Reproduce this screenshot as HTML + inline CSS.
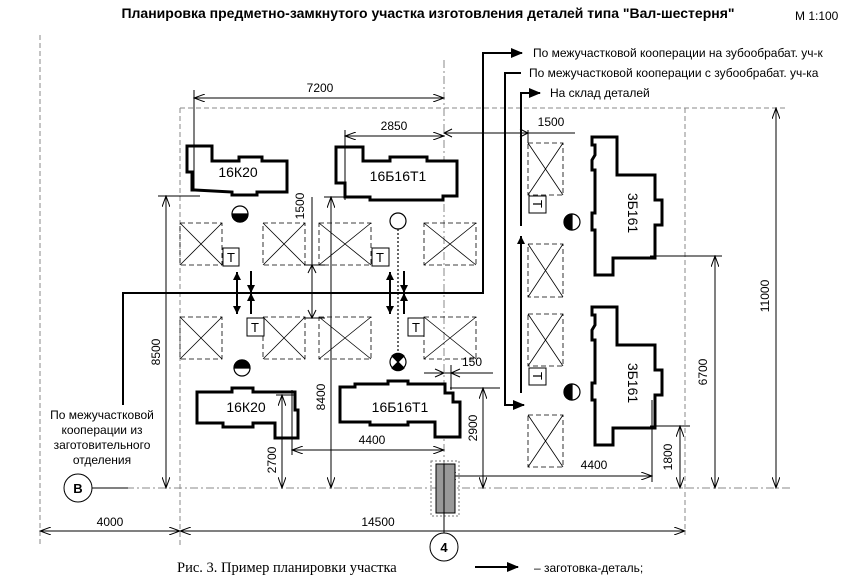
<!DOCTYPE html>
<html><head><meta charset="utf-8"><style>body{margin:0;background:#fff}svg{display:block}text{font-family:"Liberation Sans",sans-serif}</style></head><body>
<svg width="857" height="583" viewBox="0 0 857 583" xmlns="http://www.w3.org/2000/svg">
<defs>
<marker id="d" markerWidth="12" markerHeight="8" refX="11" refY="4" orient="auto-start-reverse" markerUnits="userSpaceOnUse"><path d="M0,0 L11,4 L0,8" fill="none" stroke="#000" stroke-width="1"/></marker>
<marker id="a" markerWidth="12" markerHeight="10" refX="11" refY="5" orient="auto-start-reverse" markerUnits="userSpaceOnUse"><path d="M0,0 L12,5 L0,10Z" fill="#000"/></marker>
<marker id="s" markerWidth="8" markerHeight="8" refX="8" refY="4" orient="auto-start-reverse" markerUnits="userSpaceOnUse"><path d="M0,0 L8,4 L0,8Z" fill="#000"/></marker>
</defs>
<text x="428" y="18" text-anchor="middle" font-weight="bold" font-size="14">Планировка предметно-замкнутого участка изготовления деталей типа "Вал-шестерня"</text>
<text x="795" y="20" font-size="12">М 1:100</text>

<g stroke="#888" stroke-width="1" fill="none" stroke-dasharray="5,3">
<line x1="40" y1="35" x2="40" y2="545"/>
<line x1="180" y1="108" x2="787" y2="108"/>
<line x1="180" y1="108" x2="180" y2="545"/>
<line x1="685" y1="108" x2="685" y2="535"/>
</g>
<g stroke="#888" stroke-width="1" fill="none" stroke-dasharray="8,3,2,3">
<line x1="444" y1="60" x2="444" y2="520"/>
<line x1="110" y1="488" x2="790" y2="488"/>
</g>

<g stroke="#000" stroke-width="3" fill="#fff">
<polygon points="187,146 212,146 212,161 239,161 239,157 262,157 262,161 287,161 287,192 257,192 257,195 232,195 232,192 195,190 192,190 192,172 187,172"/>
<polygon points="336,147 363,147 363,161 390,161 390,157 427,157 427,161 457,161 457,196 443,196 443,200 370,200 370,197 345,197 345,183 336,183"/>
<polygon points="197,392 232,392 232,388 253,388 253,392 295,392 295,410 298,410 298,438 275,438 275,423 253,423 253,427 223,427 223,423 197,423"/>
<polygon points="340,387 355,387 355,384 388,384 388,381 408,381 408,384 445,384 445,393 453,393 453,402 460,402 460,437 435,437 435,422 408,422 408,425 370,425 370,422 340,422"/>
<polygon points="592,137 617,137 617,175 655,175 655,200 662,200 662,225 655,225 655,258 613,258 613,275 595,275 595,230 592,230 592,213 595,213 595,170 592,170 592,160 595,155 595,145 592,145"/>
<polygon points="592,307 617,307 617,345 655,345 655,370 662,370 662,395 655,395 655,428 613,428 613,445 595,445 595,400 592,400 592,383 595,383 595,340 592,340 592,330 595,325 595,315 592,315"/>
</g>
<g font-size="14" text-anchor="middle">
<text x="238" y="177">16К20</text>
<text x="398" y="181">16Б16Т1</text>
<text x="246" y="412">16К20</text>
<text x="400" y="412">16Б16Т1</text>
<text transform="translate(628,213) rotate(90)">3Б161</text>
<text transform="translate(628,383) rotate(90)">3Б161</text>
</g>

<g stroke="#000" stroke-width="0.8" fill="none">
<g stroke-dasharray="5,3">
<rect x="180" y="223" width="42" height="42"/><rect x="263" y="223" width="42" height="42"/><rect x="319" y="223" width="52" height="42"/><rect x="424" y="223" width="52" height="42"/>
<rect x="180" y="317" width="42" height="42"/><rect x="263" y="317" width="42" height="42"/><rect x="319" y="317" width="52" height="42"/><rect x="424" y="317" width="52" height="42"/>
<rect x="528" y="143" width="35" height="52"/><rect x="528" y="244" width="35" height="53"/><rect x="528" y="314" width="35" height="52"/><rect x="528" y="415" width="35" height="52"/>
</g>
<path d="M180,223L222,265M222,223L180,265 M263,223L305,265M305,223L263,265 M319,223L371,265M371,223L319,265 M424,223L476,265M476,223L424,265
M180,317L222,359M222,317L180,359 M263,317L305,359M305,317L263,359 M319,317L371,359M371,317L319,359 M424,317L476,359M476,317L424,359
M528,143L563,195M563,143L528,195 M528,244L563,297M563,244L528,297 M528,314L563,366M563,314L528,366 M528,415L563,467M563,415L528,467"/>
</g>
<g stroke="#000" stroke-width="1" fill="#fff">
<rect x="223" y="248" width="16" height="18"/><rect x="247" y="318" width="17" height="18"/><rect x="372" y="248" width="17" height="18"/><rect x="408" y="318" width="16" height="18"/>
<rect x="529" y="196" width="17" height="17"/><rect x="529" y="368" width="17" height="17"/>
</g>
<g font-size="13" text-anchor="middle">
<text x="231" y="262">Т</text><text x="255" y="332">Т</text><text x="380" y="262">Т</text><text x="416" y="332">Т</text>
<text transform="translate(533,204) rotate(90)">Т</text><text transform="translate(533,376) rotate(90)">Т</text>
</g>

<g stroke="#000" stroke-width="1.2">
<circle cx="240" cy="214" r="8" fill="#fff"/><path d="M232,214 A8,8 0 0 0 248,214Z" fill="#000"/>
<circle cx="242" cy="368" r="8" fill="#fff"/><path d="M234,368 A8,8 0 0 1 250,368Z" fill="#000"/>
<circle cx="398" cy="221" r="8" fill="#fff"/>
<circle cx="398" cy="362" r="8" fill="#fff"/><path d="M392,356 L398,362 L404,356 A8,8 0 0 0 392,356Z M392,368 L398,362 L404,368 A8,8 0 0 1 392,368Z" fill="#000"/>
<circle cx="572" cy="222" r="8" fill="#fff"/><path d="M572,214 A8,8 0 0 0 572,230Z" fill="#000"/>
<circle cx="572" cy="392" r="8" fill="#fff"/><path d="M572,384 A8,8 0 0 0 572,400Z" fill="#000"/>
</g>
<line x1="398" y1="229" x2="398" y2="354" stroke="#000" stroke-width="1.2" stroke-dasharray="2,2"/>

<g stroke="#000" stroke-width="2" fill="none">
<polyline points="123,405 123,293 483,293 483,53 522,53" marker-end="url(#a)"/>
<polyline points="521,73 505,73 505,405 524,405" marker-end="url(#a)"/>
<polyline points="521,226 521,93 540,93" marker-end="url(#a)"/>
<line x1="521" y1="393" x2="521" y2="236" marker-end="url(#s)"/>
<line x1="237" y1="272" x2="237" y2="314" marker-start="url(#s)" marker-end="url(#s)"/>
<line x1="251" y1="271" x2="251" y2="293" marker-end="url(#s)"/>
<line x1="251" y1="314" x2="251" y2="293" marker-end="url(#s)"/>
<line x1="390" y1="272" x2="390" y2="314" marker-start="url(#s)" marker-end="url(#s)"/>
<line x1="404" y1="271" x2="404" y2="293" marker-end="url(#s)"/>
<line x1="404" y1="314" x2="404" y2="293" marker-end="url(#s)"/>
</g>
<g font-size="12">
<text x="533" y="57">По межучастковой кооперации на зубообрабат. уч-к</text>
<text x="529" y="77">По межучастковой кооперации с зубообрабат. уч-ка</text>
<text x="550" y="97">На склад деталей</text>
</g>
<g font-size="12" text-anchor="middle">
<text x="102" y="419">По межучастковой</text>
<text x="102" y="434">кооперации из</text>
<text x="102" y="449">заготовительного</text>
<text x="102" y="464">отделения</text>
</g>

<g stroke="#000" stroke-width="1" fill="none">
<line x1="194" y1="90" x2="194" y2="190"/>
<line x1="194" y1="98" x2="444" y2="98" marker-start="url(#d)" marker-end="url(#d)"/>
<line x1="345" y1="130" x2="345" y2="200"/>
<line x1="345" y1="136" x2="444" y2="136" marker-start="url(#d)" marker-end="url(#d)"/>
<line x1="444" y1="133" x2="575" y2="133"/>
<line x1="528" y1="130" x2="528" y2="143"/>
<path d="M452,129 L444,133 L452,137 M520,129 L528,133 L520,137"/>
<line x1="158" y1="196" x2="200" y2="196"/>
<line x1="166" y1="196" x2="166" y2="488" marker-start="url(#d)" marker-end="url(#d)"/>
<line x1="312" y1="197" x2="312" y2="318"/>
<line x1="304" y1="265" x2="325" y2="265"/><line x1="304" y1="318" x2="325" y2="318"/>
<path d="M308,273 L312,265 L316,273 M308,310 L312,318 L316,310"/>
<line x1="324" y1="197" x2="350" y2="197"/>
<line x1="331" y1="197" x2="331" y2="488" marker-start="url(#d)" marker-end="url(#d)"/>
<line x1="276" y1="395" x2="296" y2="395"/>
<line x1="282" y1="395" x2="282" y2="488" marker-start="url(#d)" marker-end="url(#d)"/>
<line x1="292" y1="390" x2="292" y2="455"/>
<line x1="292" y1="450" x2="444" y2="450" marker-start="url(#d)" marker-end="url(#d)"/>
<line x1="424" y1="373" x2="493" y2="373"/>
<line x1="451" y1="365" x2="451" y2="390"/>
<path d="M435,369 L444,373 L435,377 M460,369 L451,373 L460,377"/>
<line x1="450" y1="388" x2="500" y2="388"/>
<line x1="483" y1="388" x2="483" y2="488" marker-start="url(#d)" marker-end="url(#d)"/>
<line x1="652" y1="400" x2="652" y2="482"/>
<line x1="445" y1="476" x2="652" y2="476" marker-start="url(#d)" marker-end="url(#d)"/>
<line x1="650" y1="426" x2="690" y2="426"/>
<line x1="680" y1="426" x2="680" y2="488" marker-start="url(#d)" marker-end="url(#d)"/>
<line x1="650" y1="256" x2="722" y2="256"/>
<line x1="715" y1="256" x2="715" y2="488" marker-start="url(#d)" marker-end="url(#d)"/>
<line x1="776" y1="108" x2="776" y2="488" marker-start="url(#d)" marker-end="url(#d)"/>
<line x1="40" y1="531" x2="180" y2="531" marker-start="url(#d)" marker-end="url(#d)"/>
<line x1="180" y1="531" x2="685" y2="531" marker-start="url(#d)" marker-end="url(#d)"/>
</g>
<g font-size="12" text-anchor="middle">
<text x="320" y="92">7200</text>
<text x="394" y="130">2850</text>
<text x="551" y="126">1500</text>
<text transform="translate(304,206) rotate(-90)">1500</text>
<text transform="translate(160,352) rotate(-90)">8500</text>
<text transform="translate(325,397) rotate(-90)">8400</text>
<text transform="translate(276,460) rotate(-90)">2700</text>
<text x="372" y="444">4400</text>
<text x="472" y="366">150</text>
<text transform="translate(477,428) rotate(-90)">2900</text>
<text x="594" y="469">4400</text>
<text transform="translate(672,457) rotate(-90)">1800</text>
<text transform="translate(707,372) rotate(-90)">6700</text>
<text transform="translate(769,296) rotate(-90)">11000</text>
<text x="110" y="526">4000</text>
<text x="378" y="526">14500</text>
</g>

<g stroke="#000" stroke-width="1">
<circle cx="78" cy="488" r="14" fill="#fff"/>
<line x1="92" y1="488" x2="128" y2="488"/>
<rect x="431" y="461" width="28" height="55" fill="none" stroke="#777" stroke-dasharray="2,2"/>
<rect x="436" y="464" width="19" height="49" fill="#999"/>
<line x1="444" y1="464" x2="444" y2="533"/>
<circle cx="444" cy="547" r="14" fill="#fff"/>
</g>
<text x="78" y="493" font-size="13" font-weight="bold" text-anchor="middle">В</text>
<text x="444" y="552" font-size="13" font-weight="bold" text-anchor="middle">4</text>

<text x="177" y="572" font-size="14.5" style="font-family:'Liberation Serif',serif">Рис. 3. Пример планировки участка</text>
<line x1="475" y1="567" x2="518" y2="567" stroke="#000" stroke-width="2" marker-end="url(#a)"/>
<text x="534" y="572" font-size="12">– заготовка-деталь;</text>
</svg>
</body></html>
